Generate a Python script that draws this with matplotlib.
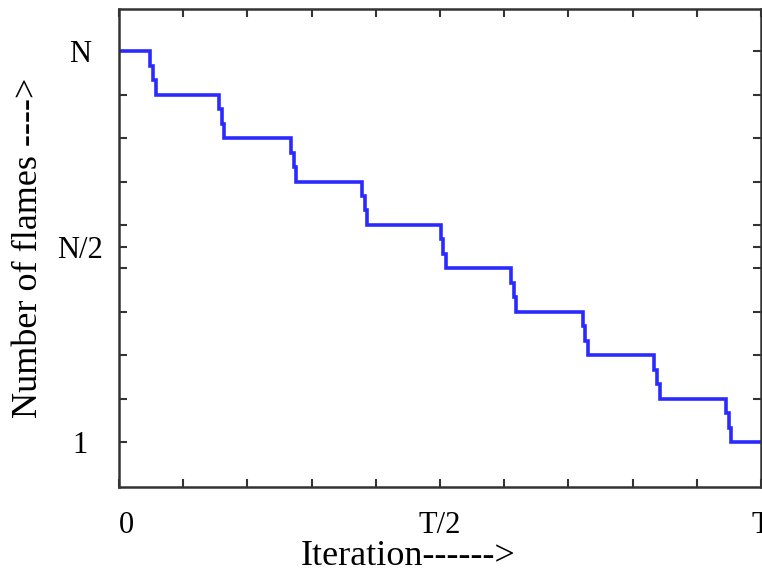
import numpy as np
import matplotlib
matplotlib.use('Agg')
import matplotlib.pyplot as plt

plt.rcParams['font.family'] = ['Liberation Serif', 'DejaVu Serif']

# drop positions (in units of T/10) and the flame count levels
drops = [0.53, 1.60, 2.72, 3.83, 5.05, 6.15, 7.26, 8.38, 9.50]
levels = [10, 9, 8, 7, 6, 5, 4, 3, 2, 1]
t_end = 10

xticks = list(range(0, 11))
xticklabels = ['0', '', '', '', '', 'T/2', '', '', '', '', 'T']
yticks = [1, 2, 3, 4, 5, 5.5, 6, 7, 8, 9, 10]
yticklabels = ['1', '', '', '', '', 'N/2', '', '', '', '', 'N']


def staircase(drops, levels, t_end, jog=0.08):
    # each drop is drawn as three small sub-steps like the original
    xs, ys = [0], [levels[0]]
    for d, hi, lo in zip(drops, levels[:-1], levels[1:]):
        for k in range(3):
            x = d - jog / 2 + k * jog / 2
            xs += [x, x]
            ys += [hi - (hi - lo) * k / 3, hi - (hi - lo) * (k + 1) / 3]
    xs.append(t_end)
    ys.append(levels[-1])
    return xs, ys


fig = plt.figure(figsize=(7.62, 5.76), dpi=100)
ax = fig.add_axes([119 / 762, 1 - 487 / 576, 642 / 762, 478 / 576])

xs, ys = staircase(drops, levels, t_end)
ax.plot(xs, ys, color='#2a2aff', lw=2.6, solid_joinstyle='miter')

ax.set_xlim(0, 10)
ax.set_ylim(-0.03, 10.97)
ax.set_xticks(xticks)
ax.set_xticklabels(xticklabels)
ax.set_yticks(yticks)
ax.set_yticklabels(yticklabels, ha='center')
ax.get_xticklabels()[0].set_ha('left')

ax.tick_params(direction='in', length=6, width=1.5, color='#333333',
               top=True, right=True, labelsize=22)
ax.tick_params(axis='x', pad=17)
ax.tick_params(axis='y', pad=28)
for s in ax.spines.values():
    s.set_linewidth(1.8)
    s.set_color('#333333')

ax.set_xlabel('Iteration------>', fontsize=26)
ax.xaxis.set_label_coords(0.45, -0.11)
ax.set_ylabel('Number of flames ---->', fontsize=26)
ax.yaxis.set_label_coords(-0.115, 0.50)

fig.savefig('out.png', dpi=100)
